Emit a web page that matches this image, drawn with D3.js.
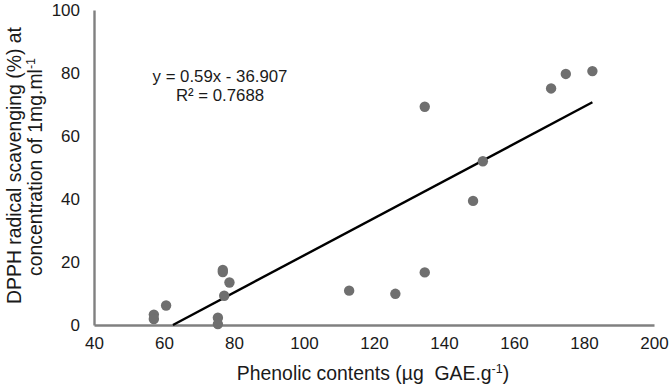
<!DOCTYPE html>
<html><head><meta charset="utf-8">
<script src="https://cdn.jsdelivr.net/npm/d3@7"></script>
<style>body{margin:0;background:#fff}svg{display:block}text{font-family:"Liberation Sans",Arial,sans-serif}</style>
</head><body><svg id="c" width="670" height="386"></svg>
<script>
const phenolic = [57.1,57.1,60.6,75.4,75.4,76.8,76.8,78.7,77.2,112.9,126.1,134.5,148.3,151.1,134.5,170.6,174.8,182.4];
const dpph     = [3.3,1.9,6.2,2.3,0.3,17.5,16.8,13.5,9.3,10.9,9.9,16.7,39.4,52.0,69.3,75.1,79.7,80.6];
const xTicks = [40,60,80,100,120,140,160,180,200];
const yTicks = [0,20,40,60,80,100];
const slope = 0.59, intercept = -36.907, r2 = "0.7688";

const svg = d3.select("#c");
const x = d3.scaleLinear().domain([40,200]).range([94,654]);
const y = d3.scaleLinear().domain([0,100]).range([325,10]);
const axisCol = "#808080", textCol = "#1a1a1a";

const xa = svg.append("g").attr("transform","translate(0,325)")
  .call(d3.axisBottom(x).tickValues(xTicks).tickSize(0).tickPadding(12));
const ya = svg.append("g").attr("transform","translate(94,0)")
  .call(d3.axisLeft(y).tickValues(yTicks).tickSize(0).tickPadding(14));
[xa,ya].forEach(a=>{
  a.select(".domain").attr("stroke",axisCol).attr("stroke-width",2.4);
  a.selectAll("text").attr("font-size",17).attr("fill",textCol).attr("font-family","Liberation Sans, Arial, sans-serif");
});
ya.selectAll("text").attr("dy","0.35em");

// trendline
const x0 = -intercept/slope, x1 = d3.max(phenolic);
svg.append("line")
  .attr("x1",x(x0)).attr("y1",y(slope*x0+intercept))
  .attr("x2",x(x1)).attr("y2",y(slope*x1+intercept))
  .attr("stroke","#000").attr("stroke-width",2.4);

svg.append("g").selectAll("circle").data(phenolic.map((v,i)=>[v,dpph[i]]))
  .join("circle").attr("cx",d=>x(d[0])).attr("cy",d=>y(d[1])).attr("r",5.2).attr("fill","#6f6f6f");

// equation
svg.append("text").attr("x",220).attr("y",82).attr("text-anchor","middle").attr("font-size",16.8).attr("fill",textCol)
  .text(`y = ${slope}x - ${Math.abs(intercept)}`);
svg.append("text").attr("x",220).attr("y",101).attr("text-anchor","middle").attr("font-size",16.8).attr("fill",textCol)
  .text(`R² = ${r2}`);

// axis titles
const xt = svg.append("text").attr("x",373).attr("y",380).attr("text-anchor","middle").attr("font-size",19.4).attr("fill",textCol).attr("xml:space","preserve");
xt.append("tspan").text("Phenolic contents (µg  GAE.g");
xt.append("tspan").attr("font-size",12.5).attr("dy",-7).text("-1");
xt.append("tspan").attr("dy",7).text(")");

svg.append("text").attr("transform","translate(20.5,165.5) rotate(-90)").attr("text-anchor","middle").attr("font-size",19.4).attr("fill",textCol)
  .text("DPPH radical scavenging (%) at");
const l2 = svg.append("text").attr("transform","translate(42,167) rotate(-90)").attr("text-anchor","middle").attr("font-size",19.4).attr("fill",textCol);
l2.append("tspan").text("concentration of 1mg.ml");
l2.append("tspan").attr("font-size",12.5).attr("dy",-7).text("-1");
</script></body></html>
